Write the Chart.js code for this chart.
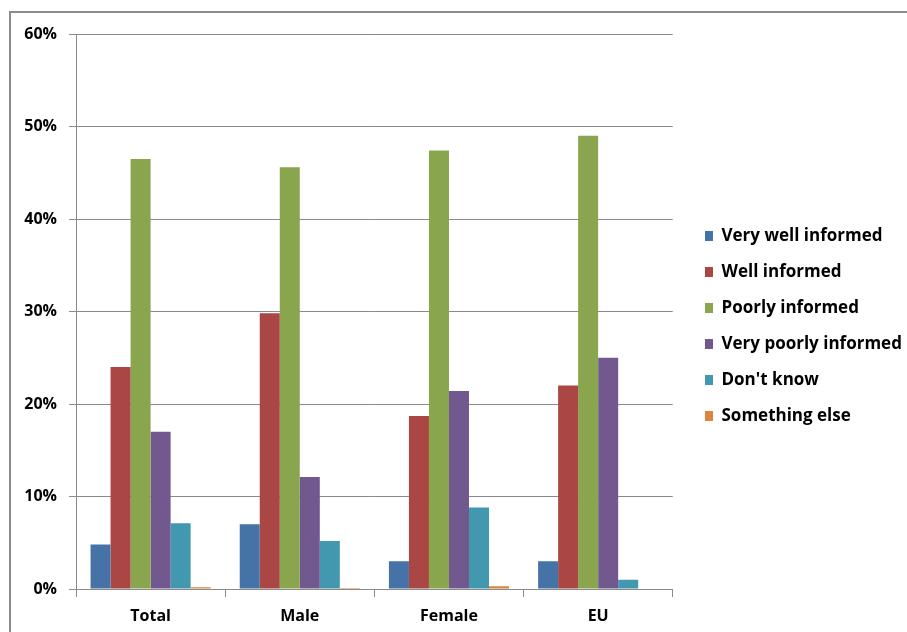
<!DOCTYPE html>
<html>
<head>
<meta charset="utf-8">
<script src="https://cdn.jsdelivr.net/npm/chart.js@4.4.0/dist/chart.umd.min.js"></script>
<style>
  html, body { margin: 0; padding: 0; background: #fff; }
  #frame {
    position: absolute; left: 9px; top: 11px; width: 920px; height: 640px;
    border-top: 2px solid #8c8c8c; border-left: 2px solid #8c8c8c;
  }
  #wrap { position: absolute; left: 0; top: 0; width: 907px; height: 632px; }
</style>
</head>
<body>
<div id="frame"></div>
<div id="wrap"><canvas id="infoChart"></canvas></div>
<script>
const categories = ["Total", "Male", "Female", "EU"];
const veryWell = [4.8, 7.0, 3.0, 3.0];
const well = [24.0, 29.8, 18.7, 22.0];
const poorly = [46.5, 45.6, 47.4, 49.0];
const veryPoorly = [17.0, 12.1, 21.4, 25.0];
const dontKnow = [7.1, 5.2, 8.8, 1.0];
const somethingElse = [0.2, 0.1, 0.3, 0];
const yTicks = [0, 10, 20, 30, 40, 50, 60];

const seriesNames = [
  "Very well informed",
  "Well informed",
  "Poorly informed",
  "Very poorly informed",
  "Don't know",
  "Something else",
];
const seriesData = [veryWell, well, poorly, veryPoorly, dontKnow, somethingElse];
const colors = ["#4572A7", "#AA4643", "#89A54E", "#71588F", "#4198AF", "#DB843D"];

const FONT = "'Open Sans', 'Liberation Sans', sans-serif";
const gridColor = "#8a8a8a";

// nudge the legend so the swatches sit where the original had them
const legendShift = {
  id: "legendShift",
  afterLayout(chart) {
    const lg = chart.legend;
    const dx = 705 - (chart.chartArea.right + 19);
    lg.left += dx;
    lg.right += dx;
    lg.top -= 7;
    lg.bottom -= 7;
  },
};

const ctx = document.getElementById("infoChart").getContext("2d");
new Chart(ctx, {
  type: "bar",
  data: {
    labels: categories,
    datasets: seriesNames.map((name, i) => ({
      label: name,
      data: seriesData[i],
      backgroundColor: colors[i],
      borderWidth: 0,
      categoryPercentage: 0.805,
      barPercentage: 1.0,
    })),
  },
  options: {
    responsive: true,
    maintainAspectRatio: false,
    animation: false,
    layout: { padding: { left: 0, top: 34, bottom: 0, right: 10 } },
    plugins: {
      tooltip: { enabled: false },
      legend: {
        position: "right",
        labels: {
          boxWidth: 8,
          boxHeight: 10,
          padding: 19,
          color: "#000",
          font: { family: FONT, size: 17, weight: "bold" },
        },
      },
    },
    scales: {
      x: {
        afterFit(scale) {
          scale.height = 43;
        },
        grid: {
          display: true,
          offset: true,
          drawOnChartArea: false,
          drawTicks: true,
          tickLength: 8,
          color: gridColor,
        },
        border: { color: gridColor },
        ticks: {
          padding: 10,
          color: "#000",
          font: { family: FONT, size: 16, weight: "bold" },
        },
      },
      y: {
        min: 0,
        max: 60,
        afterBuildTicks(scale) {
          scale.ticks = yTicks.map((v) => ({ value: v }));
        },
        afterFit(scale) {
          scale.width = 76;
        },
        grid: { color: gridColor, tickLength: 7 },
        border: { color: gridColor },
        ticks: {
          padding: 12,
          color: "#000",
          font: { family: FONT, size: 16, weight: "bold" },
          callback: (v) => v + "%",
        },
      },
    },
  },
  plugins: [legendShift],
});
</script>
</body>
</html>
